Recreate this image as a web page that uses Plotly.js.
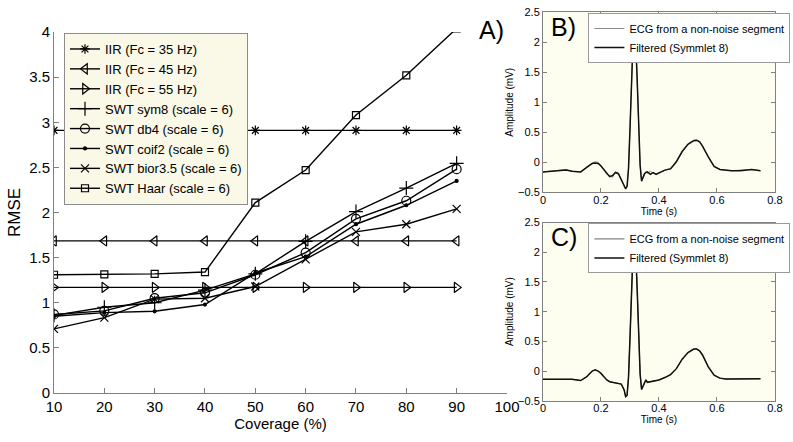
<!DOCTYPE html>
<html><head><meta charset="utf-8">
<script src="https://cdn.plot.ly/plotly-3.0.1.min.js"></script>
<style>html,body{margin:0;padding:0;background:#fff}</style>
</head><body><div id="chart" style="width:793px;height:442px"></div>
<script>
// ---- Panel A data ----
const coverage = [10, 20, 30, 40, 50, 60, 70, 80, 90];
const iir35   = [2.91, 2.91, 2.91, 2.91, 2.91, 2.91, 2.91, 2.91, 2.91];
const iir45   = [1.685, 1.685, 1.685, 1.685, 1.685, 1.685, 1.685, 1.685, 1.685];
const iir55   = [1.17, 1.17, 1.17, 1.17, 1.17, 1.17, 1.17, 1.17, 1.17];
const sym8    = [0.86, 0.95, 1.00, 1.14, 1.32, 1.68, 2.01, 2.27, 2.545];
const db4     = [0.87, 0.91, 1.05, 1.11, 1.31, 1.555, 1.93, 2.13, 2.48];
const coif2   = [0.85, 0.89, 0.905, 0.98, 1.33, 1.51, 1.87, 2.08, 2.35];
const bior35  = [0.71, 0.835, 1.04, 1.05, 1.18, 1.48, 1.785, 1.87, 2.04];
const haar    = [1.31, 1.315, 1.32, 1.34, 2.11, 2.47, 3.08, 3.52, 4.04];
const seriesNames = ['IIR (Fc = 35 Hz)', 'IIR (Fc = 45 Hz)', 'IIR (Fc = 55 Hz)',
  'SWT sym8 (scale = 6)', 'SWT db4 (scale = 6)', 'SWT coif2 (scale = 6)',
  'SWT bior3.5 (scale = 6)', 'SWT Haar (scale = 6)'];

// ---- Panels B and C data (time in s, amplitude in mV) ----
const timeS = [0, 0.02, 0.05, 0.08, 0.1, 0.13, 0.15, 0.16, 0.17, 0.18, 0.19, 0.2, 0.21, 0.22, 0.23, 0.24,
  0.25, 0.26, 0.27, 0.28, 0.285, 0.29, 0.295, 0.3, 0.305, 0.31, 0.315, 0.32, 0.325, 0.33, 0.335, 0.34,
  0.345, 0.35, 0.355, 0.36, 0.37, 0.38, 0.39, 0.4, 0.42, 0.44, 0.46, 0.48, 0.5, 0.52, 0.53, 0.54, 0.55,
  0.57, 0.59, 0.61, 0.63, 0.65, 0.68, 0.7, 0.72, 0.75];
const ecgB = [-0.16, -0.15, -0.13, -0.12, -0.15, -0.16, -0.08, -0.04, -0.01, 0.01, 0.0, -0.05, -0.12, -0.2, -0.22, -0.25,
  -0.16, -0.18, -0.29, -0.38, -0.45, -0.40, -0.1, 0.55, 1.3, 1.95, 2.25, 2.0, 1.35, 0.6, -0.05, -0.32,
  -0.27, -0.2, -0.16, -0.18, -0.15, -0.18, -0.19, -0.17, -0.13, -0.1, 0.02, 0.18, 0.31, 0.37, 0.38, 0.35, 0.28,
  0.09, -0.07, -0.12, -0.13, -0.14, -0.13, -0.12, -0.12, -0.14];
const filtB = [-0.16, -0.15, -0.14, -0.13, -0.15, -0.16, -0.09, -0.05, -0.02, -0.01, -0.02, -0.06, -0.12, -0.18, -0.24, -0.22,
  -0.17, -0.19, -0.28, -0.38, -0.44, -0.40, -0.1, 0.55, 1.3, 1.95, 2.25, 2.0, 1.35, 0.6, -0.05, -0.31,
  -0.26, -0.19, -0.17, -0.16, -0.2, -0.17, -0.2, -0.18, -0.13, -0.11, 0.01, 0.18, 0.30, 0.36, 0.365, 0.34, 0.27,
  0.09, -0.07, -0.12, -0.13, -0.14, -0.14, -0.13, -0.12, -0.14];
const ecgC = [-0.14, -0.14, -0.14, -0.14, -0.14, -0.16, -0.1, -0.05, 0.0, 0.02, 0.0, -0.04, -0.1, -0.15, -0.18, -0.19,
  -0.2, -0.2, -0.22, -0.32, -0.43, -0.41, -0.1, 0.55, 1.3, 1.95, 2.25, 2.0, 1.35, 0.6, -0.05, -0.31,
  -0.25, -0.18, -0.15, -0.19, -0.18, -0.17, -0.16, -0.15, -0.11, -0.06, 0.04, 0.2, 0.31, 0.37, 0.37, 0.34, 0.27,
  0.07, -0.07, -0.12, -0.135, -0.135, -0.13, -0.13, -0.125, -0.13];
const filtC = [-0.14, -0.14, -0.14, -0.14, -0.14, -0.16, -0.1, -0.05, 0.0, 0.02, 0.0, -0.04, -0.1, -0.15, -0.18, -0.19,
  -0.2, -0.2, -0.22, -0.32, -0.43, -0.41, -0.1, 0.55, 1.3, 1.95, 2.25, 2.0, 1.35, 0.6, -0.05, -0.31,
  -0.25, -0.18, -0.15, -0.19, -0.18, -0.17, -0.16, -0.15, -0.11, -0.06, 0.04, 0.2, 0.31, 0.37, 0.37, 0.34, 0.27,
  0.07, -0.07, -0.12, -0.135, -0.135, -0.13, -0.13, -0.125, -0.13];
const ecgNames = ['ECG from a non-noise segment', 'Filtered (Symmlet 8)'];

const FONT = 'Arial, "Liberation Sans", sans-serif';
const symbols = ['asterisk-open', 'triangle-left-open', 'triangle-right-open', 'cross-thin-open',
  'circle-open', 'circle', 'x-thin-open', 'square-open'];
const sizes = [8, 9, 9, 10, 9, 3, 8, 7];
const seriesA = [iir35, iir45, iir55, sym8, db4, coif2, bior35, haar];

const traces = seriesA.map((ys, i) => ({
  type: 'scatter', mode: 'lines+markers', x: coverage, y: ys, name: seriesNames[i],
  xaxis: 'x', yaxis: 'y', legend: 'legend',
  line: {color: '#000', width: 1.4},
  marker: {symbol: symbols[i], size: sizes[i], color: '#000', line: {color: '#000', width: 1.2}}
}));

traces.push({type: 'scatter', mode: 'lines', x: timeS, y: ecgB, name: ecgNames[0], xaxis: 'x2', yaxis: 'y2',
  legend: 'legend2', line: {color: '#8a8a8a', width: 1}});
traces.push({type: 'scatter', mode: 'lines', x: timeS, y: filtB, name: ecgNames[1], xaxis: 'x2', yaxis: 'y2',
  legend: 'legend2', line: {color: '#111', width: 1.5}});
traces.push({type: 'scatter', mode: 'lines', x: timeS, y: ecgC, name: ecgNames[0], xaxis: 'x3', yaxis: 'y3',
  legend: 'legend3', line: {color: '#666', width: 1}});
traces.push({type: 'scatter', mode: 'lines', x: timeS, y: filtC, name: ecgNames[1], xaxis: 'x3', yaxis: 'y3',
  legend: 'legend3', line: {color: '#111', width: 1.5}});

const gray = '#808080';
function smallX(anchor, dom) {
  return {domain: dom, anchor: anchor, range: [0, 0.8], dtick: 0.2, tick0: 0, showgrid: false, zeroline: false,
    showline: true, linecolor: gray, mirror: 'ticks', ticks: 'inside', ticklen: 4, tickcolor: gray,
    ticklabelstandoff: -3,
    tickfont: {size: 11, color: '#000'}, title: {text: 'Time (s)', font: {size: 10}, standoff: 0}, automargin: false};
}
function smallY(anchor, dom) {
  return {domain: dom, anchor: anchor, range: [-0.5, 2.5], dtick: 0.5, tick0: 0, showgrid: false, zeroline: false,
    showline: true, linecolor: gray, mirror: 'ticks', ticks: 'inside', ticklen: 4, tickcolor: gray,
    tickfont: {size: 11, color: '#000'}, title: {text: 'Amplitude (mV)', font: {size: 10}, standoff: 2}, automargin: false};
}
const legendSmall = (ytop) => ({x: 0.742, xanchor: 'left', y: ytop, yanchor: 'top', bgcolor: '#ffffff',
  bordercolor: '#9a9a9a', borderwidth: 1, font: {size: 11, color: '#000', family: FONT}, tracegroupgap: 0,
  itemwidth: 30});

const layout = {
  width: 793, height: 442, margin: {l: 0, r: 0, t: 0, b: 0},
  paper_bgcolor: '#ffffff', plot_bgcolor: '#ffffff',
  font: {family: FONT, color: '#000'},
  showlegend: true,
  xaxis: {domain: [0.0681, 0.6393], anchor: 'y', range: [10, 100], dtick: 10, tick0: 10, showgrid: false,
    zeroline: false, showline: true, linecolor: gray, ticks: 'inside', ticklen: 5, tickcolor: gray,
    ticklabelstandoff: 0,
    tickfont: {size: 15, color: '#000'}, title: {text: 'Coverage (%)', font: {size: 15}, standoff: 4}, automargin: false},
  yaxis: {domain: [0.1109, 0.9276], anchor: 'x', range: [0, 4], dtick: 0.5, tick0: 0, showgrid: false,
    zeroline: false, showline: true, linecolor: gray, ticks: 'inside', ticklen: 5, tickcolor: gray,
    tickfont: {size: 15, color: '#000'}, title: {text: 'RMSE', font: {size: 17}, standoff: 4}, automargin: false},
  xaxis2: smallX('y2', [0.6847, 0.9773]),
  yaxis2: smallY('x2', [0.5649, 0.9722]),
  xaxis3: smallX('y3', [0.6847, 0.9773]),
  yaxis3: smallY('x3', [0.0934, 0.4964]),
  legend: {x: 0.0807, xanchor: 'left', y: 0.9253, yanchor: 'top', bgcolor: '#faf8e6', bordercolor: '#8c8c8c',
    borderwidth: 1, font: {size: 13, color: '#000', family: FONT}, tracegroupgap: 0, itemwidth: 30},
  legend2: legendSmall(0.9706),
  legend3: legendSmall(0.4945),
  shapes: [
    {type: 'rect', xref: 'x2 domain', yref: 'y2 domain', x0: 0, x1: 1, y0: 0, y1: 1, fillcolor: '#fdfdf0',
      line: {width: 0}, layer: 'below'},
    {type: 'rect', xref: 'x3 domain', yref: 'y3 domain', x0: 0, x1: 1, y0: 0, y1: 1, fillcolor: '#fdfdf0',
      line: {width: 0}, layer: 'below'}
  ],
  annotations: [
    {text: 'A)', xref: 'paper', yref: 'paper', x: 0.601, y: 0.932, xanchor: 'left', yanchor: 'middle',
      showarrow: false, font: {size: 25, color: '#000'}},
    {text: 'B)', xref: 'paper', yref: 'paper', x: 0.692, y: 0.939, xanchor: 'left', yanchor: 'middle',
      showarrow: false, font: {size: 25, color: '#000'}},
    {text: 'C)', xref: 'paper', yref: 'paper', x: 0.692, y: 0.464, xanchor: 'left', yanchor: 'middle',
      showarrow: false, font: {size: 25, color: '#000'}}
  ]
};

Plotly.newPlot('chart', traces, layout, {staticPlot: true, displayModeBar: false});
</script>
</body></html>
